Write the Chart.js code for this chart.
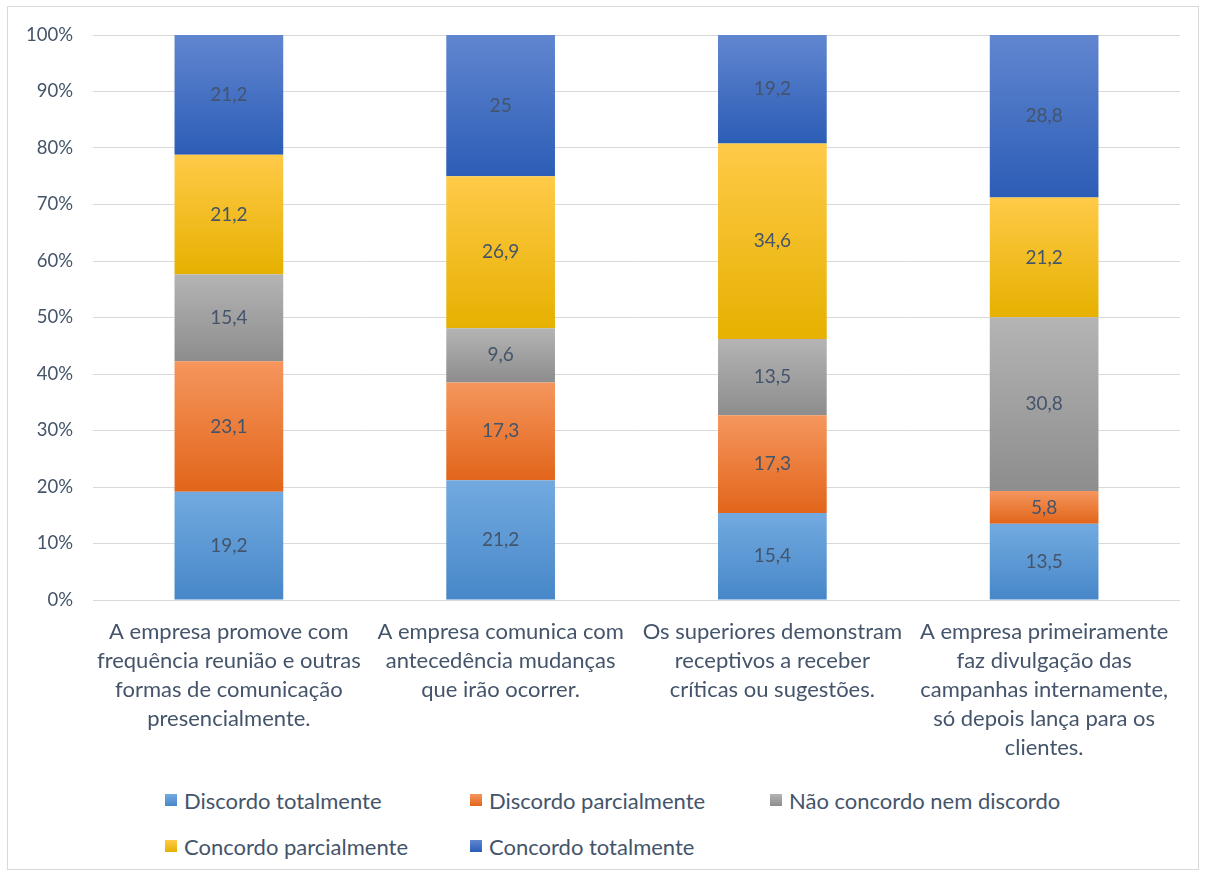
<!DOCTYPE html>
<html>
<head>
<meta charset="utf-8">
<script src="https://cdn.jsdelivr.net/npm/chart.js@4.4.1/dist/chart.umd.min.js"></script>
<style>
  html, body { margin: 0; padding: 0; background: #fff; }
  #wrap { position: relative; width: 1207px; height: 878px; font-family: Lato, "Open Sans", sans-serif; }
  #frame { position: absolute; left: 7px; top: 6px; width: 1192px; height: 864px; border: 1px solid #d9d9d9; box-sizing: border-box; }
  #box { position: absolute; left: 0; top: 0; width: 1207px; height: 775px; }
  #legend { position: absolute; left: 165px; top: 786px; display: grid; grid-template-columns: 305px 300px 300px; row-gap: 18px; }
  .item { display: flex; align-items: center; font-size: 22px; color: #44546a; height: 28px; }
  .sw { width: 12px; height: 12px; margin-right: 7px; }
</style>
</head>
<body>
<div id="wrap">
  <div id="frame"></div>
  <div id="box"><canvas id="chart"></canvas></div>
  <div id="legend"></div>
</div>
<script>
// Chart data //
var categories = [
  ["A empresa promove com", "frequência reunião e outras", "formas de comunicação", "presencialmente."],
  ["A empresa comunica com", "antecedência mudanças", "que irão ocorrer."],
  ["Os superiores demonstram", "receptivos a receber", "críticas ou sugestões."],
  ["A empresa primeiramente", "faz divulgação das", "campanhas internamente,", "só depois lança para os", "clientes."]
];
var seriesNames = ["Discordo totalmente", "Discordo parcialmente", "Não concordo nem discordo", "Concordo parcialmente", "Concordo totalmente"];
var discordoTotal = [19.2, 21.2, 15.4, 13.5];
var discordoParcial = [23.1, 17.3, 17.3, 5.8];
var neutro = [15.4, 9.6, 13.5, 30.8];
var concordoParcial = [21.2, 26.9, 34.6, 21.2];
var concordoTotal = [21.2, 25, 19.2, 28.8];
var yTicks = [0, 10, 20, 30, 40, 50, 60, 70, 80, 90, 100];

var seriesValues = [discordoTotal, discordoParcial, neutro, concordoParcial, concordoTotal];
// top / bottom colours of each bar gradient
var gradColors = [
  ["#72aae0", "#4787c8"],
  ["#f5965d", "#e2651a"],
  ["#b4b4b4", "#8d8d8d"],
  ["#ffca48", "#e6b100"],
  ["#6186d0", "#2c5db6"]
];
var textColor = "#44546a";
var fontFam = "Lato, 'Open Sans', sans-serif";

// sums per category so every stack fills 100%
var totals = categories.map(function(c, i) {
  return seriesValues.reduce(function(s, arr) { return s + arr[i]; }, 0);
});

function pct(arr) {
  return arr.map(function(v, i) { return v / totals[i] * 100; });
}

function gradientFor(ds) {
  return function(context) {
    var chart = context.chart;
    var y = chart.scales && chart.scales.y;
    if (!chart.chartArea || !y || context.dataIndex === undefined) return gradColors[ds][0];
    var i = context.dataIndex, start = 0;
    for (var k = 0; k < ds; k++) start += seriesValues[k][i] / totals[i] * 100;
    var end = start + seriesValues[ds][i] / totals[i] * 100;
    var top = y.getPixelForValue(Math.min(end, 100));
    var bot = y.getPixelForValue(start);
    if (!isFinite(top) || !isFinite(bot) || top === bot) return gradColors[ds][0];
    var g = chart.ctx.createLinearGradient(0, top, 0, bot);
    g.addColorStop(0, gradColors[ds][0]);
    g.addColorStop(1, gradColors[ds][1]);
    return g;
  };
}

var valueLabels = {
  id: "valueLabels",
  afterDatasetsDraw: function(chart) {
    var ctx = chart.ctx;
    ctx.save();
    ctx.font = "19px " + fontFam;
    ctx.fillStyle = textColor;
    ctx.textAlign = "center";
    ctx.textBaseline = "middle";
    chart.data.datasets.forEach(function(ds, di) {
      chart.getDatasetMeta(di).data.forEach(function(el, i) {
        var v = seriesValues[di][i];
        ctx.fillText(String(v).replace(".", ","), el.x, (el.y + el.base) / 2);
      });
    });
    ctx.restore();
  }
};

var ctx = document.getElementById("chart").getContext("2d");
var chart = new Chart(ctx, {
  type: "bar",
  data: {
    labels: categories,
    datasets: seriesValues.map(function(arr, di) {
      return {
        label: seriesNames[di],
        data: pct(arr),
        backgroundColor: gradientFor(di),
        borderWidth: 0,
        categoryPercentage: 1,
        barPercentage: 0.4
      };
    })
  },
  plugins: [valueLabels],
  options: {
    responsive: true,
    maintainAspectRatio: false,
    animation: false,
    layout: { padding: { top: 35, right: 27, left: 0, bottom: 0 } },
    plugins: {
      legend: { display: false },
      tooltip: { enabled: false }
    },
    scales: {
      x: {
        stacked: true,
        grid: { display: false },
        border: { display: false },
        ticks: {
          color: textColor,
          font: { family: fontFam, size: 22, lineHeight: 1.32 },
          maxRotation: 0,
          autoSkip: false,
          padding: 9
        },
        afterFit: function(scale) { scale.height = 175; }
      },
      y: {
        stacked: true,
        min: 0,
        max: 100,
        afterBuildTicks: function(scale) {
          scale.ticks = yTicks.map(function(v) { return { value: v }; });
        },
        grid: { color: "#d9d9d9", lineWidth: 1, drawTicks: false },
        border: { display: false },
        ticks: {
          color: textColor,
          font: { family: fontFam, size: 18.5 },
          padding: 20,
          callback: function(v) { return v + "%"; }
        },
        afterFit: function(scale) { scale.width = 93; }
      }
    }
  }
});

// legend below the chart
var legend = document.getElementById("legend");
seriesNames.forEach(function(name, di) {
  var item = document.createElement("div");
  item.className = "item";
  var sw = document.createElement("span");
  sw.className = "sw";
  sw.style.background = "linear-gradient(" + gradColors[di][0] + "," + gradColors[di][1] + ")";
  var tx = document.createElement("span");
  tx.textContent = name;
  item.appendChild(sw);
  item.appendChild(tx);
  legend.appendChild(item);
});
</script>
</body>
</html>
